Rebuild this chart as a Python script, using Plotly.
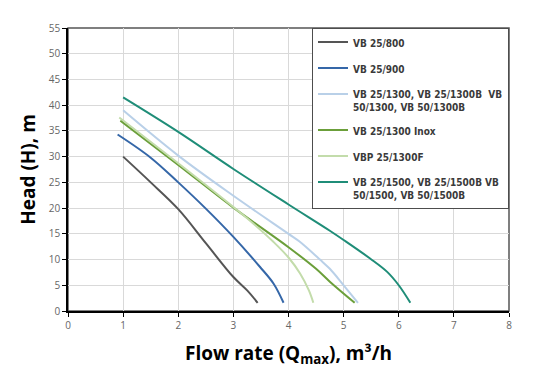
import plotly.graph_objects as go

# Data
names = [
    "VB 25/800",
    "VB 25/900",
    "VB 25/1300, VB 25/1300B  VB<br>50/1300, VB 50/1300B",
    "VB 25/1300 Inox",
    "VBP 25/1300F",
    "VB 25/1500, VB 25/1500B VB<br>50/1500, VB 50/1500B",
]
colors = ["#555555", "#3567a8", "#b9d0e8", "#6b9f3a", "#c3dcab", "#1f8d78"]

q_800 = [1.0, 1.5, 2.0, 2.5, 3.0, 3.25, 3.44]
h_800 = [30.0, 25.0, 19.8, 13.2, 6.6, 4.0, 1.6]

q_900 = [0.9, 1.5, 2.0, 2.5, 3.0, 3.48, 3.73, 3.91]
h_900 = [34.3, 29.8, 25.0, 19.9, 14.4, 8.6, 5.3, 1.6]

q_1300 = [1.0, 2.0, 3.0, 4.0, 4.2, 4.57, 4.75, 5.0, 5.26]
h_1300 = [39.0, 30.2, 22.4, 15.0, 13.5, 10.0, 8.2, 5.0, 1.6]

q_inox = [0.95, 2.0, 3.0, 4.0, 4.5, 4.75, 5.2]
h_inox = [37.0, 28.4, 20.1, 12.4, 8.2, 5.7, 1.6]

q_vbp = [0.93, 2.0, 3.0, 3.36, 3.73, 4.0, 4.21, 4.37, 4.45]
h_vbp = [37.6, 28.7, 20.2, 17.0, 13.4, 10.4, 7.3, 4.0, 1.6]

q_1500 = [1.0, 2.0, 3.0, 4.0, 4.75, 5.0, 5.48, 5.79, 6.0, 6.21]
h_1500 = [41.5, 34.8, 27.6, 20.7, 15.6, 13.8, 10.2, 7.6, 5.0, 1.6]

x_ticks = [0, 1, 2, 3, 4, 5, 6, 7, 8]
y_ticks = [0, 5, 10, 15, 20, 25, 30, 35, 40, 45, 50, 55]

series = [
    (q_800, h_800), (q_900, h_900), (q_1300, h_1300),
    (q_inox, h_inox), (q_vbp, h_vbp), (q_1500, h_1500),
]

fig = go.Figure()
for i, ((q, h), name, col) in enumerate(zip(series, names, colors)):
    fig.add_trace(go.Scatter(
        x=q, y=h, mode="lines", name=name, legendgroup=f"g{i}",
        line=dict(color=col, width=2, shape="spline", smoothing=1.0),
    ))

axis_font = dict(family="Open Sans, Liberation Sans, sans-serif", size=10, color="#666666")
title_font = dict(family="Open Sans, Lato, sans-serif", size=19, color="black", weight="bold")
# The page adds an 8px body margin, so the figure is sized to fit the 541x373 window.
fig.update_layout(
    width=533, height=365,
    margin=dict(l=60, r=32, t=20, b=62),
    paper_bgcolor="white", plot_bgcolor="white",
    showlegend=True,
    legend=dict(
        x=1, xanchor="right", y=1, yanchor="top",
        bgcolor="white", bordercolor="#4d4d4d", borderwidth=1,
        font=dict(family="Liberation Sans Narrow, DejaVu Sans Condensed, sans-serif",
                  size=10, color="#3a3a3a", weight="bold"),
        valign="top", tracegroupgap=7, traceorder="grouped",
    ),
    xaxis=dict(
        range=[0, 8], tickvals=x_ticks, ticks="outside", ticklen=4, tickcolor="black",
        showline=True, linecolor="black", linewidth=1.5,
        showgrid=True, gridcolor="#d9d9d9", gridwidth=1, zeroline=False,
        tickfont=axis_font, automargin=False,
        title=dict(text="Flow rate (Q<sub>max</sub>), m³/h", font=title_font, standoff=16),
    ),
    yaxis=dict(
        range=[0, 55], tickvals=y_ticks, ticks="outside", ticklen=4, tickcolor="black",
        showline=True, linecolor="black", linewidth=1.5,
        showgrid=True, gridcolor="#d9d9d9", gridwidth=1, zeroline=False,
        tickfont=axis_font, automargin=False,
        title=dict(text="Head (H), m", font=title_font, standoff=8),
    ),
    shapes=[dict(type="rect", xref="paper", yref="paper", x0=0, x1=1, y0=0, y1=1,
                 line=dict(color="#555555", width=1.5), layer="below")],
)

fig.write_html("out.html")
